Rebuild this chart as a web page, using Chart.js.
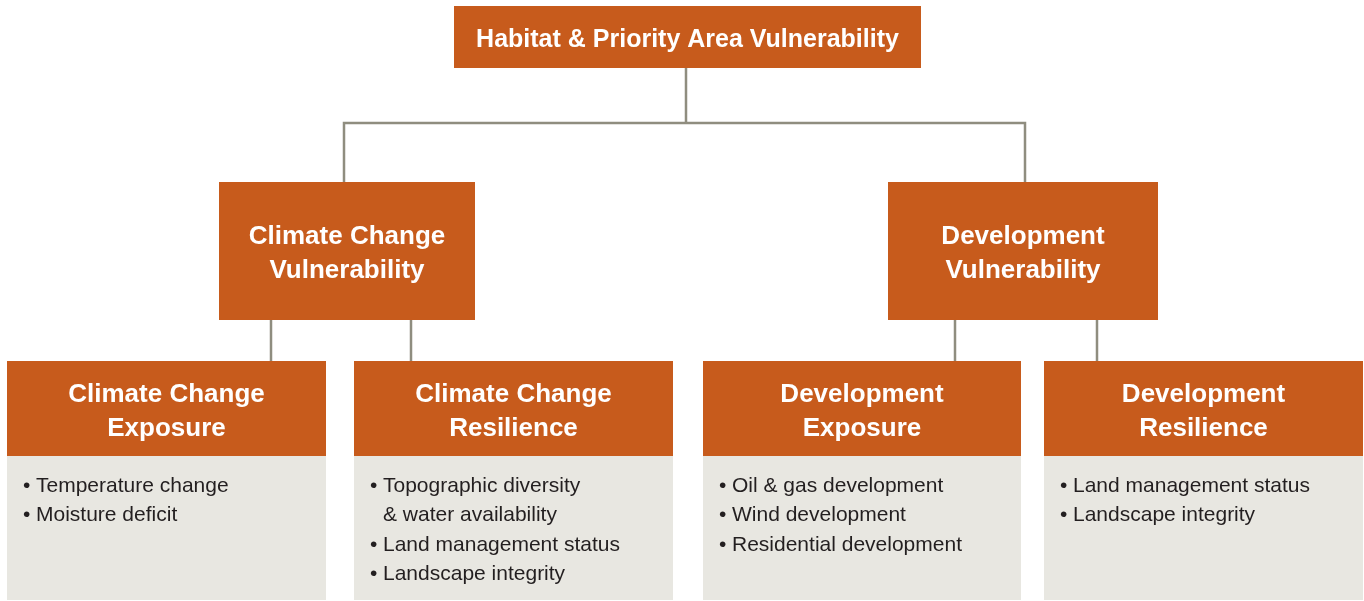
<!DOCTYPE html>
<html>
<head>
<meta charset="utf-8">
<title>Habitat & Priority Area Vulnerability</title>
<script src="https://cdn.jsdelivr.net/npm/chart.js@4/dist/chart.umd.min.js"></script>
<style>
  html, body { margin: 0; padding: 0; background: #ffffff; }
  #wrap { width: 1364px; height: 601px; position: relative; }
</style>
</head>
<body>
<div id="wrap"><canvas id="treeChart"></canvas></div>
<script>
// =============== DATA ===============
const topTitle = ['Habitat & Priority Area Vulnerability'];
const midTitles = [
  ['Climate Change', 'Vulnerability'],
  ['Development', 'Vulnerability']
];
const leafTitles = [
  ['Climate Change', 'Exposure'],
  ['Climate Change', 'Resilience'],
  ['Development', 'Exposure'],
  ['Development', 'Resilience']
];
// each bullet is a list of wrapped lines
const leafBullets = [
  [['Temperature change'], ['Moisture deficit']],
  [['Topographic diversity', '& water availability'], ['Land management status'], ['Landscape integrity']],
  [['Oil & gas development'], ['Wind development'], ['Residential development']],
  [['Land management status'], ['Landscape integrity']]
];
// =====================================

// --- layout (in chart units = pixels, y down) ---
const topBox = { x0: 454, x1: 921, y0: 6, y1: 68 };
const midBoxes = [
  { x0: 219, x1: 475, y0: 182, y1: 320 },
  { x0: 888, x1: 1158, y0: 182, y1: 320 }
];
const leafBoxes = [
  { x0: 7, x1: 326, y0: 361, y1: 456, yb: 600 },
  { x0: 354, x1: 673, y0: 361, y1: 456, yb: 600 },
  { x0: 703, x1: 1021, y0: 361, y1: 456, yb: 600 },
  { x0: 1044, x1: 1363, y0: 361, y1: 456, yb: 600 }
];
const connectors = [
  [[686, 68], [686, 123]],
  [[344, 182], [344, 123], [1025, 123], [1025, 182]],
  [[271, 320], [271, 361]],
  [[411, 320], [411, 361]],
  [[955, 320], [955, 361]],
  [[1097, 320], [1097, 361]]
];

const ORANGE = '#c75b1c';
const BODY = '#e8e7e1';
const LINE = '#8f8d7f';
const FONT = '"Liberation Sans", Arimo, Arial, sans-serif';

// ✅ Box + text drawing plugin (uses the chart scales for placement)
const boxPlugin = {
  id: 'boxPlugin',
  afterDatasetsDraw(chart) {
    const ctx = chart.ctx;
    const sx = chart.scales.x, sy = chart.scales.y;
    const px = v => sx.getPixelForValue(v);
    const py = v => sy.getPixelForValue(v);

    function rect(x0, y0, x1, y1, color) {
      ctx.fillStyle = color;
      ctx.fillRect(px(x0), py(y0), px(x1) - px(x0), py(y1) - py(y0));
    }
    function header(box, lines, size, gap) {
      rect(box.x0, box.y0, box.x1, box.y1, ORANGE);
      ctx.fillStyle = '#ffffff';
      ctx.font = 'bold ' + size + 'px ' + FONT;
      ctx.textAlign = 'center';
      ctx.textBaseline = 'middle';
      const cx = (px(box.x0) + px(box.x1)) / 2;
      const cy = (py(box.y0) + py(box.y1)) / 2;
      const start = cy - (lines.length - 1) * gap / 2;
      lines.forEach((t, i) => ctx.fillText(t, cx, start + i * gap + 3));
    }

    ctx.save();
    header(topBox, topTitle, 25, 0);
    midBoxes.forEach((b, i) => header(b, midTitles[i], 26, 34));
    leafBoxes.forEach((b, i) => {
      header(b, leafTitles[i], 26, 34);
      rect(b.x0, b.y1, b.x1, b.yb, BODY);
      ctx.fillStyle = '#231f20';
      ctx.font = '21px ' + FONT;
      ctx.textAlign = 'left';
      ctx.textBaseline = 'middle';
      let y = py(486);
      leafBullets[i].forEach(item => {
        item.forEach((line, k) => {
          if (k === 0) ctx.fillText('•', px(b.x0) + 16, y);
          ctx.fillText(line, px(b.x0) + 29, y);
          y += 29.5;
        });
      });
    });
    ctx.restore();
  }
};

function buildChart() {
  const ctx = document.getElementById('treeChart').getContext('2d');
  new Chart(ctx, {
    type: 'line',
    data: {
      datasets: connectors.map(seg => ({
        data: seg.map(p => ({ x: p[0], y: p[1] })),
        borderColor: LINE,
        borderWidth: 2.5,
        pointRadius: 0,
        tension: 0,
        fill: false
      }))
    },
    options: {
      responsive: true,
      maintainAspectRatio: false,
      animation: false,
      layout: { padding: 0 },
      scales: {
        x: { type: 'linear', min: 0, max: 1364, display: false },
        y: { type: 'linear', min: 0, max: 601, reverse: true, display: false }
      },
      plugins: {
        legend: { display: false },
        tooltip: { enabled: false }
      }
    },
    plugins: [boxPlugin]
  });
}

// ✅ Run once fonts are ready
document.addEventListener('DOMContentLoaded', () => {
  Promise.all([
    document.fonts.load('bold 26px "Liberation Sans"'),
    document.fonts.load('21px "Liberation Sans"')
  ]).catch(() => null).then(buildChart);
});
</script>
</body>
</html>
